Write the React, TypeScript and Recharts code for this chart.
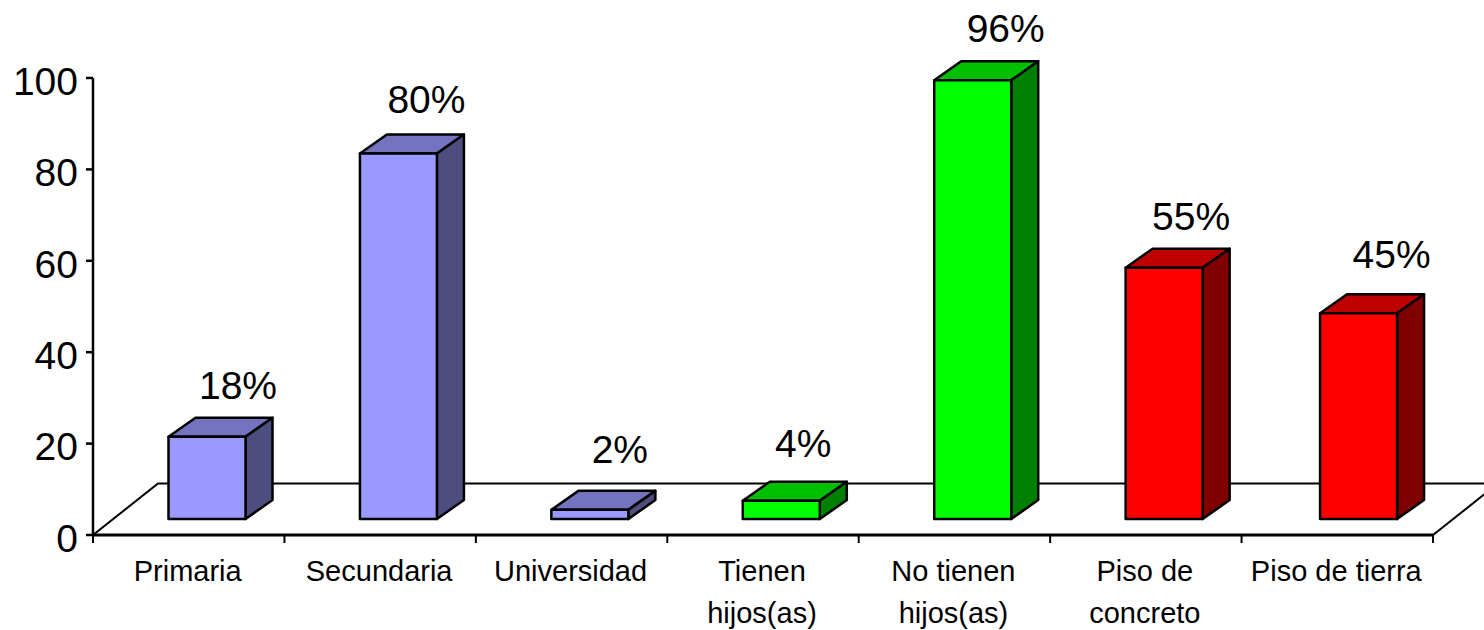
import { Bar, BarChart, LabelList, XAxis, YAxis, usePlotArea } from 'recharts';

const categories = [
  'Primaria',
  'Secundaria',
  'Universidad',
  'Tienen\nhijos(as)',
  'No tienen\nhijos(as)',
  'Piso de\nconcreto',
  'Piso de tierra',
];
const values = [18, 80, 2, 4, 96, 55, 45];
const groups = ['blue', 'blue', 'blue', 'green', 'green', 'red', 'red'];
const yTicks = [0, 20, 40, 60, 80, 100];

const rows = categories.map((name, i) => ({ name, value: values[i] }));

const PALETTE: Record<string, { front: string; top: string; side: string }> = {
  blue: { front: '#9999ff', top: '#7373bf', side: '#4d4d80' },
  green: { front: '#00ff00', top: '#00bf00', side: '#008000' },
  red: { front: '#ff0000', top: '#bf0000', side: '#800000' },
};

const FONT = '"Liberation Sans", Arial, sans-serif';
const WIDTH = 1484;
const HEIGHT = 630;
const MARGIN = { top: 78, right: 51, bottom: 0, left: 0 };
const AXIS_W = 93;
const AXIS_H = 95;
const BAND = (WIDTH - AXIS_W - MARGIN.right) / categories.length;

// fake 3D: bars sit on a floor that is lifted off the axis
const BAR_DX = 18.5;
const LIFT = 16;
const DEPTH_X = 27;
const DEPTH_Y = 19;
const FLOOR_X = 65;
const FLOOR_Y = 51.5;

// the last bar and the data labels were placed by hand in the original
const barNudge = [0, 0, 0, 0, 0, 0, 3];
const labelDx = [31, 28, 30, 22, 33, 27, 36];
const labelDy = [38, 40, 47, 44, 38, 38, 45];

function Box3D(props: any) {
  const { x, y, width, height, index } = props;
  const c = PALETTE[groups[index]];
  const l = x + BAR_DX + barNudge[index];
  const r = l + width;
  const t = y - LIFT;
  const b = y + height - LIFT;
  const line = { stroke: '#000', strokeWidth: 2.5, strokeLinejoin: 'round' as const };
  return (
    <g>
      <polygon
        points={`${l},${t} ${l + DEPTH_X},${t - DEPTH_Y} ${r + DEPTH_X},${t - DEPTH_Y} ${r},${t}`}
        fill={c.top}
        {...line}
      />
      <polygon
        points={`${r},${t} ${r + DEPTH_X},${t - DEPTH_Y} ${r + DEPTH_X},${b - DEPTH_Y} ${r},${b}`}
        fill={c.side}
        {...line}
      />
      <rect x={l} y={t} width={width} height={height} fill={c.front} {...line} />
    </g>
  );
}

function Floor() {
  const plot = usePlotArea();
  if (!plot) return null;
  const left = plot.x;
  const right = plot.x + plot.width;
  const base = plot.y + plot.height;
  const back = base - FLOOR_Y;
  return (
    <g fill="none" stroke="#000" strokeWidth={2}>
      <polyline points={`${left},${base} ${left + FLOOR_X},${back} ${WIDTH},${back}`} />
      <line x1={right} y1={base} x2={right + FLOOR_X} y2={back} />
    </g>
  );
}

function CategoryTick({ x, y, payload, index }: any) {
  const lines = String(payload.value).split('\n');
  const edge = x - BAND / 2;
  // y already sits 8px under the axis line
  return (
    <g>
      <line x1={edge} y1={y - 8} x2={edge} y2={y} stroke="#000" strokeWidth={2} />
      {index === categories.length - 1 && (
        <line x1={edge + BAND} y1={y - 8} x2={edge + BAND} y2={y} stroke="#000" strokeWidth={2} />
      )}
      {lines.map((text: string, i: number) => (
        <text
          key={text}
          x={x - 1}
          y={y + 38 + i * 42}
          textAnchor="middle"
          fontFamily={FONT}
          fontSize={29}
          fill="#000"
        >
          {text}
        </text>
      ))}
    </g>
  );
}

function PercentLabel({ x, y, width, value, index }: any) {
  return (
    <text
      x={x + width / 2 + BAR_DX + labelDx[index]}
      y={y - LIFT - labelDy[index]}
      textAnchor="middle"
      fontFamily={FONT}
      fontSize={39}
      fill="#000"
    >
      {`${value}%`}
    </text>
  );
}

export default function App() {
  return (
    <div style={{ position: 'absolute', left: 0, top: 0, width: WIDTH, height: HEIGHT, background: '#fff' }}>
      <BarChart width={WIDTH} height={HEIGHT} data={rows} margin={MARGIN} barSize={77}>
        <Floor />
        <XAxis
          dataKey="name"
          interval={0}
          height={AXIS_H}
          tickLine={false}
          axisLine={{ stroke: '#000', strokeWidth: 3 }}
          tick={<CategoryTick />}
        />
        <YAxis
          type="number"
          domain={[0, 100]}
          ticks={yTicks}
          width={AXIS_W}
          tickSize={7}
          tickMargin={8}
          axisLine={{ stroke: '#000', strokeWidth: 2.5 }}
          tickLine={{ stroke: '#000', strokeWidth: 2.5 }}
          tick={{ fontFamily: FONT, fontSize: 39, fill: '#000', dy: 3 }}
        />
        <Bar dataKey="value" isAnimationActive={false} shape={<Box3D />}>
          <LabelList dataKey="value" content={<PercentLabel />} />
        </Bar>
      </BarChart>
    </div>
  );
}
